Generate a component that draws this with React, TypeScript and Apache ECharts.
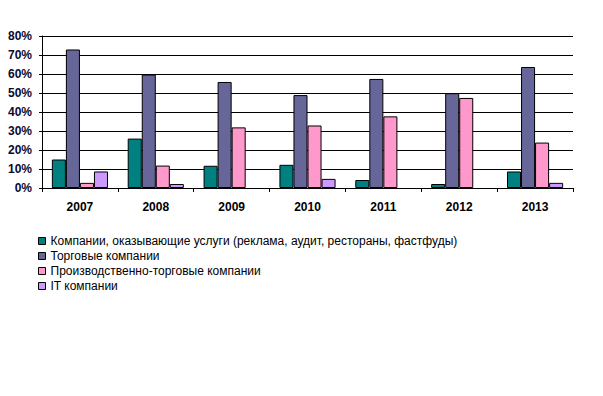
import React, { useEffect, useRef } from "react";
import * as echarts from "echarts";

const categories = ["2007", "2008", "2009", "2010", "2011", "2012", "2013"];
const seriesNames = [
  "Компании, оказывающие услуги (реклама, аудит, рестораны, фастфуды)",
  "Торговые компании",
  "Производственно-торговые компании",
  "IT компании",
];
const services = [15, 26, 11.7, 12.2, 4.2, 2.1, 8.7];
const trade = [72.9, 59.7, 55.8, 48.9, 57.4, 49.9, 63.7];
const productionTrade = [2.7, 11.8, 31.9, 32.9, 37.7, 47.4, 23.9];
const itCompanies = [8.7, 2.1, null, 4.8, null, null, 2.7];
const yTicks = [0, 10, 20, 30, 40, 50, 60, 70, 80];

const colors = ["#008080", "#666699", "#FF99CC", "#CC99FF"];

export default function App() {
  const ref = useRef<HTMLDivElement>(null);
  useEffect(() => {
    if (!ref.current) return;
    const chart = echarts.init(ref.current, null, { renderer: "svg" });
    const values = [services, trade, productionTrade, itCompanies];
    chart.setOption({
      animation: false,
      backgroundColor: "#ffffff",
      grid: { left: 42, right: 30, top: 36, bottom: 208, containLabel: false },
      legend: {
        orient: "vertical",
        left: 38,
        top: 234,
        padding: 0,
        itemWidth: 7,
        itemHeight: 7,
        itemGap: 1,
        icon: "rect",
        data: seriesNames,
        textStyle: { fontFamily: "Arial, 'Liberation Sans'", fontSize: 12, color: "#000", lineHeight: 14 },
        itemStyle: { borderColor: "#000", borderWidth: 1 },
      },
      xAxis: {
        type: "category",
        data: categories,
        axisLine: { lineStyle: { color: "#000", width: 1 } },
        axisTick: { show: true, length: 4, interval: 0, lineStyle: { color: "#000" } },
        axisLabel: {
          margin: 13,
          fontFamily: "Arial, 'Liberation Sans'",
          fontSize: 12,
          fontWeight: "bold",
          color: "#000",
          interval: 0,
        },
      },
      yAxis: {
        type: "value",
        min: yTicks[0],
        max: yTicks[yTicks.length - 1],
        interval: 10,
        axisLine: { show: true, lineStyle: { color: "#000", width: 1 } },
        axisTick: { show: true, length: 3, lineStyle: { color: "#000" } },
        splitLine: { show: true, lineStyle: { color: "#000", width: 1 } },
        axisLabel: {
          formatter: "{value}%",
          margin: 10,
          fontFamily: "Arial, 'Liberation Sans'",
          fontSize: 12,
          fontWeight: "bold",
          color: "#0a0a30",
        },
      },
      series: seriesNames.map((name, i) => ({
        name,
        type: "bar",
        data: values[i],
        barGap: "0%",
        barCategoryGap: "26%",
        itemStyle: { color: colors[i], borderColor: "#000", borderWidth: 1 },
      })),
    });
    return () => chart.dispose();
  }, []);
  return <div ref={ref} style={{ width: 603, height: 396, margin: -8 }} />;
}
